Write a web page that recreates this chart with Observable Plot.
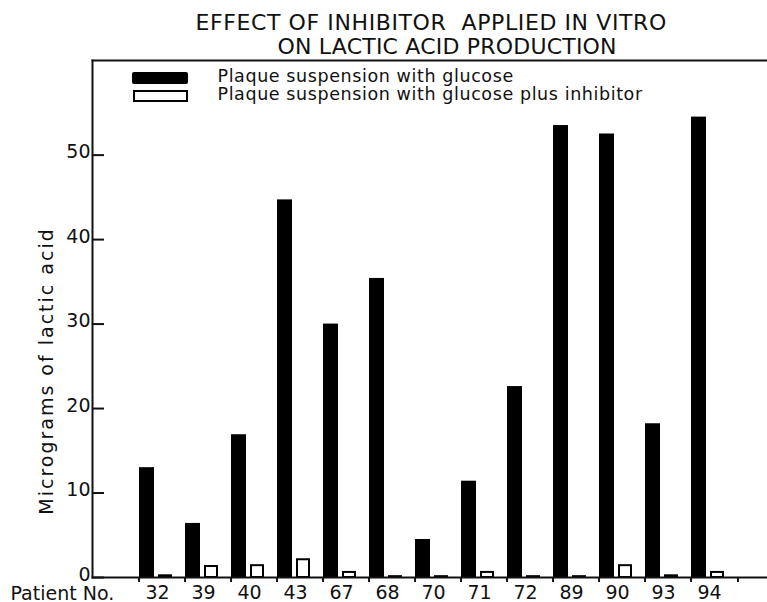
<!DOCTYPE html>
<html>
<head>
<meta charset="utf-8">
<script src="https://cdn.jsdelivr.net/npm/d3@7"></script>
<script src="https://cdn.jsdelivr.net/npm/@observablehq/plot@0.6"></script>
<style>
  html, body { margin: 0; padding: 0; background: #fff; }
  #wrap { position: relative; width: 767px; height: 602px; }
  .sw { position: absolute; box-sizing: border-box; }
  #sw1 { left: 132px; top: 72px; width: 56px; height: 12px; background: #000; border-radius: 2px; }
  #sw2 { left: 133px; top: 90px; width: 55px; height: 12px; background: #fff; border: 2px solid #000; }
  .title1 text { letter-spacing: 0.6px; }
  .title2 text { letter-spacing: 0.2px; }
  .ylab text { letter-spacing: 2px; }
  .legtext text { letter-spacing: 0.6px; }
</style>
</head>
<body>
<div id="wrap"><div id="chart"></div>
  <div class="sw" id="sw1"></div>
  <div class="sw" id="sw2"></div>
</div>
<script>
const patients = ["32","39","40","43","67","68","70","71","72","89","90","93","94"];
const glucose = [13.0, 6.4, 16.9, 44.7, 30.0, 35.4, 4.5, 11.4, 22.6, 53.5, 52.5, 18.2, 54.5];
const inhibitor = [0.2, 1.3, 1.4, 2.1, 0.6, 0.1, 0.1, 0.6, 0.1, 0.1, 1.4, 0.2, 0.6];
const yTicks = [0, 10, 20, 30, 40, 50];
const yMax = 61.2;
const seriesNames = ["Plaque suspension with glucose", "Plaque suspension with glucose plus inhibitor"];
const titleLines = ["EFFECT OF INHIBITOR  APPLIED IN VITRO", "ON LACTIC ACID PRODUCTION"];
const yLabel = "Micrograms of lactic acid";
const xLabel = "Patient No.";

const rowsG = patients.map((p, i) => ({patient: p, value: glucose[i]}));
const rowsI = patients.map((p, i) => ({patient: p, value: inhibitor[i]}));

const chart = Plot.plot({
  width: 767,
  height: 602,
  marginLeft: 92,
  marginRight: 0,
  marginTop: 60,
  marginBottom: 25,
  style: {fontFamily: "DejaVu Sans, sans-serif", color: "#111", background: "#fff"},
  x: {domain: patients, range: [133, 743], padding: 0, axis: null},
  y: {domain: [0, yMax], axis: null},
  marks: [
    Plot.barY(rowsG, {x: "patient", y: "value", fill: "#000", insetLeft: 0, insetRight: 31}),
    Plot.barY(rowsI, {x: "patient", y: "value", fill: "#fff", stroke: "#000", strokeWidth: 2, insetLeft: 20, insetRight: 14}),
    Plot.frame({anchor: "left", strokeWidth: 2}),
    Plot.frame({anchor: "top", strokeWidth: 2}),
    Plot.frame({anchor: "bottom", strokeWidth: 2}),
    Plot.axisY({ticks: yTicks, label: null, tickSize: 12, dx: 12, text: null, strokeWidth: 2}),
    Plot.axisY({ticks: yTicks, label: null, tickSize: 0, tickPadding: 2, dy: -3, fontSize: 19, tickFormat: d => d}),
    Plot.axisX({label: null, tickSize: 0, tickPadding: 8, fontSize: 19, dx: -5}),
    Plot.axisX({label: null, tickSize: 5, text: null, dx: -23.46, strokeWidth: 2}),
    Plot.axisX({label: null, ticks: [patients[patients.length - 1]], tickSize: 5, text: null, dx: 23.46, strokeWidth: 2}),
    Plot.text([yLabel], {className: "ylab", frameAnchor: "left", textAnchor: "middle", lineAnchor: "middle", rotate: -90, dx: -46, dy: 52, fontSize: 19}),
    Plot.text([xLabel], {frameAnchor: "bottom-left", textAnchor: "start", lineAnchor: "bottom", dx: -82, dy: 22, fontSize: 19}),
    Plot.text([seriesNames[0]], {className: "legtext", frameAnchor: "top-left", textAnchor: "start", lineAnchor: "bottom", dx: 125, dy: 21, fontSize: 17.5}),
    Plot.text([seriesNames[1]], {className: "legtext", frameAnchor: "top-left", textAnchor: "start", lineAnchor: "bottom", dx: 125, dy: 39, fontSize: 17.5}),
    Plot.text([titleLines[0]], {className: "title1", frameAnchor: "top-left", textAnchor: "start", lineAnchor: "bottom", dx: 103, dy: -31, fontSize: 22}),
    Plot.text([titleLines[1]], {className: "title2", frameAnchor: "top-left", textAnchor: "start", lineAnchor: "bottom", dx: 185, dy: -7, fontSize: 22})
  ]
});
document.getElementById("chart").appendChild(chart);
</script>
</body>
</html>
